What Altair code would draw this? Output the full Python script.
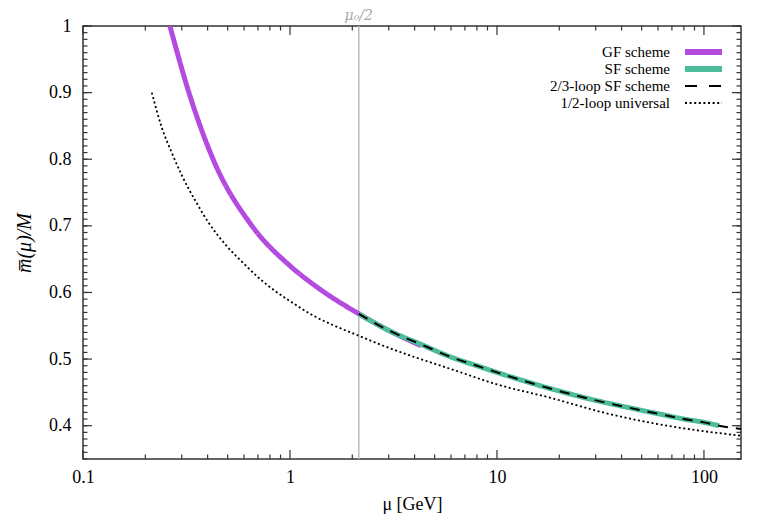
import altair as alt
import pandas as pd

# ---- data ----
GF_MU = [0.263, 0.325, 0.425, 0.655, 1.0, 1.365, 2.15, 3.0, 4.3]
GF_M = [1.0, 0.9, 0.8, 0.7, 0.64, 0.607, 0.568, 0.543, 0.52]

SF_MU = [2.15, 3, 4.3, 6, 8, 10, 15, 20, 30, 45, 60, 80, 100, 118]
SF_M = [0.568, 0.543, 0.522, 0.503, 0.49, 0.48, 0.463, 0.452, 0.438, 0.426, 0.418, 0.41, 0.405, 0.40]

L23_MU = [2.15, 3, 4.3, 6, 8, 10, 15, 20, 30, 45, 60, 80, 100, 118, 151]
L23_M = [0.568, 0.543, 0.522, 0.503, 0.49, 0.48, 0.463, 0.452, 0.438, 0.426, 0.418, 0.41, 0.405, 0.40, 0.395]

L12_MU = [0.215, 0.24, 0.27, 0.3, 0.35, 0.4, 0.5, 0.6, 0.7, 0.85, 1.0, 1.3, 1.7, 2.15, 2.72, 4, 6, 10, 18.6, 31.5, 50, 80, 151]
L12_M = [0.9, 0.848, 0.808, 0.776, 0.737, 0.707, 0.668, 0.643, 0.623, 0.602, 0.587, 0.565, 0.548, 0.535, 0.522, 0.503, 0.485, 0.462, 0.441, 0.421, 0.407, 0.396, 0.385]

MU0_HALF = [2.15]

SERIES = ["GF scheme", "SF scheme", "2/3-loop SF scheme", "1/2-loop universal"]
COLORS = ["#b44be1", "#4cbd9b", "#000000", "#000000"]
WIDTHS = [5, 5, 2, 1.8]
DASHES = [[1, 0], [1, 0], [10, 8], [2, 2.6]]

X_MAJOR = [0.1, 1, 10, 100]
X_MINOR = [m * d for d in [0.1, 1, 10] for m in range(2, 10)]
Y_MAJOR = [0.4, 0.5, 0.6, 0.7, 0.8, 0.9, 1.0]
Y_MINOR = [round(0.35 + 0.01 * i, 2) for i in range(66)]

W, H = 658, 433
FONT = "Liberation Serif"

xs = alt.Scale(type="log", domain=[0.1, 151], nice=False)
ys = alt.Scale(domain=[0.35, 1.0], nice=False, zero=False)

XAX = alt.Axis(values=X_MAJOR, format="~g", title="μ [GeV]", ticks=False,
               domain=False, grid=False, labelPadding=9, titlePadding=9,
               labelFlush=False)
YAX = alt.Axis(values=Y_MAJOR, format="~g", title="m̅(μ)/M", ticks=False,
               domain=False, grid=False, labelPadding=12, titlePadding=14,
               titleFontStyle="italic", titleFontSize=20)


def xe(f):
    return alt.X(f, type="quantitative", scale=xs, axis=XAX)


def ye(f):
    return alt.Y(f, type="quantitative", scale=ys, axis=YAX)


def curve(mu, m, i):
    df = pd.DataFrame({"mu": mu, "m": m})
    return alt.Chart(df).mark_line(
        color=COLORS[i], strokeWidth=WIDTHS[i], strokeDash=DASHES[i], clip=True,
        interpolate="monotone"
    ).encode(x=xe("mu"), y=ye("m"))


vline_df = pd.DataFrame({"mu": MU0_HALF})
vline = alt.Chart(vline_df).mark_rule(color="#bdbdbd", strokeWidth=1.5).encode(x=xe("mu"))
vlabel = alt.Chart(vline_df).mark_text(
    text="μ₀/2", color="#a8a8a8", fontSize=14, font="DejaVu Serif", fontStyle="italic",
    baseline="alphabetic", align="center"
).encode(x=xe("mu"), y=alt.value(-6))

yaxis_df = pd.DataFrame({"v": Y_MAJOR})
yaxis = alt.Chart(yaxis_df).mark_point(opacity=0).encode(y=ye("v"))

xmaj = pd.DataFrame({"v": X_MAJOR})
xmin = pd.DataFrame({"v": X_MINOR})
ymaj = pd.DataFrame({"v": Y_MAJOR})
ymin = pd.DataFrame({"v": Y_MINOR})
TC = "#333333"


def xticks(df, L):
    b = alt.Chart(df).mark_rule(color=TC, strokeWidth=1.2).encode(
        x=xe("v"), y=alt.value(H), y2=alt.value(H - L))
    t = alt.Chart(df).mark_rule(color=TC, strokeWidth=1.2).encode(
        x=xe("v"), y=alt.value(0), y2=alt.value(L))
    return [b, t]


def yticks(df, L):
    l = alt.Chart(df).mark_rule(color=TC, strokeWidth=1.2).encode(
        y=ye("v"), x=alt.value(0), x2=alt.value(L))
    r = alt.Chart(df).mark_rule(color=TC, strokeWidth=1.2).encode(
        y=ye("v"), x=alt.value(W), x2=alt.value(W - L))
    return [l, r]


main = alt.layer(
    vline, yaxis,
    curve(GF_MU, GF_M, 0),
    curve(SF_MU, SF_M, 1),
    curve(L23_MU, L23_M, 2),
    curve(L12_MU, L12_M, 3),
    *xticks(xmaj, 9), *xticks(xmin, 4.5),
    *yticks(ymaj, 9), *yticks(ymin, 4.5),
    vlabel,
)

# ---- legend ----
leg_df = pd.DataFrame({"label": SERIES, "row": [0, 1, 2, 3]})
ly = alt.Y("row:Q", scale=alt.Scale(domain=[0, 3], range=[26, 77]), axis=None)
leg_text = alt.Chart(leg_df).mark_text(
    align="right", baseline="middle", fontSize=15, font=FONT, color="black"
).encode(x=alt.value(587), y=ly, text="label:N")

leg_lines = []
for i, s in enumerate(SERIES):
    d = pd.DataFrame({"label": [s], "row": [i]})
    leg_lines.append(
        alt.Chart(d).mark_rule(color=COLORS[i], strokeWidth=WIDTHS[i] + (1 if i < 2 else 0),
                               strokeDash=DASHES[i] if i != 2 else [12, 12]).encode(
            x=alt.value(602), x2=alt.value(639), y=ly)
    )
legend = alt.layer(leg_text, *leg_lines)

chart = alt.layer(main, legend).resolve_scale(y="independent").properties(
    width=W, height=H,
    autosize=alt.AutoSizeParams(type="none"),
    padding={"left": 75, "top": 18, "right": 26, "bottom": 56},
).configure_view(stroke="#333333", strokeWidth=1.5).configure_axis(
    labelFont=FONT, labelFontSize=18, labelColor="black",
    titleFont=FONT, titleFontSize=18, titleColor="black", titleFontWeight="normal",
)

chart.save("out.html", embed_options={"renderer": "svg", "actions": False})
